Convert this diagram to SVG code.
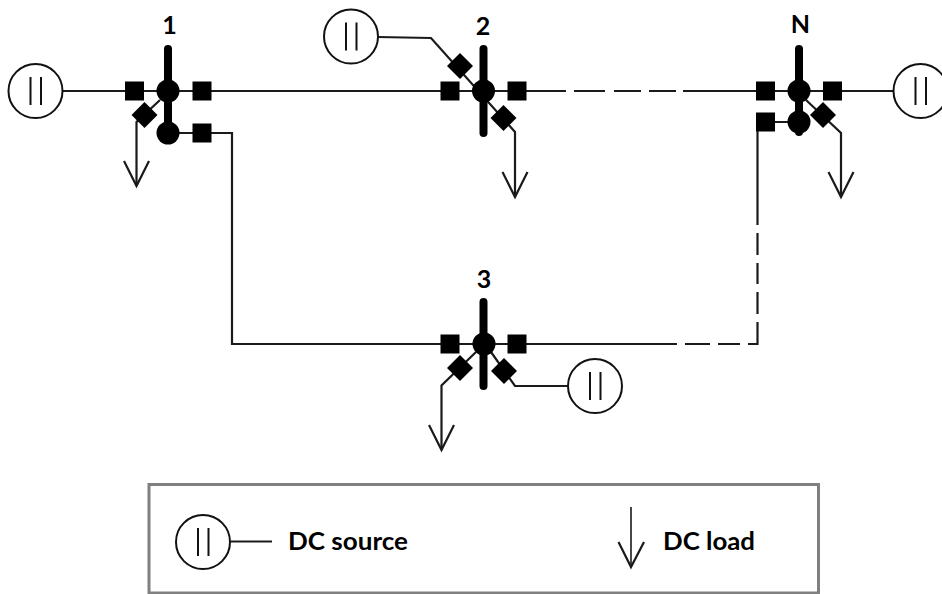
<svg xmlns="http://www.w3.org/2000/svg" width="942" height="594" viewBox="0 0 942 594">
<style>
.w{fill:none;stroke:#1a1a1a;stroke-width:2.200;stroke-linejoin:miter}
.bus{stroke:#000;stroke-width:8;stroke-linecap:round;fill:none}
.dot{fill:#000}
.sq{fill:#000}
.src{fill:#fff;stroke:#111;stroke-width:2}
.bar{stroke:#111;stroke-width:2;fill:none}
.lbl{font-family:Lato,"Open Sans",sans-serif;font-weight:700;fill:#000}
.n{font-size:25px;text-anchor:middle}
.l{font-size:25px}
</style>
<defs>
<g id="source"><circle class="src" r="27"/><path class="bar" d="M-5,-14V14M5.500,-14V14"/></g>
<rect id="square" class="sq" x="-9.500" y="-9.500" width="19" height="19"/>
<path id="diamond" class="sq" d="M0,-13L13,0L0,13L-13,0Z"/>
<path id="head" class="w" d="M-12.500,-25L0,0L12.500,-25"/>
</defs>
<g id="connectors">
<path class="w" d="M63,91H160"/>
<path class="w" d="M176,91H566M574,91H605M614,91H641M649,91H676M683,91H791"/>
<path class="w" d="M807,91H893"/>
<path class="w" d="M176,133H232V344H476"/>
<path class="w" d="M492,344H677M685,344H710M718,344H740M748,344H757.500V322M757.500,314V292M757.500,284V263M757.500,255V233M757.500,225V122H791"/>
<path class="w" d="M160,100L136.500,122V186"/>
<use href="#head" x="136.500" y="186"/>
<path class="w" d="M378,37L431,38L515,132V197"/>
<use href="#head" x="515" y="197"/>
<path class="w" d="M806,100L841,133V197"/>
<use href="#head" x="841" y="197"/>
<path class="w" d="M476,352L441.500,385.500V450"/>
<use href="#head" x="441.500" y="450"/>
<path class="w" d="M491,352L515,386H568"/>
</g>
<g id="node-1">
<path class="bus" d="M168,49V133"/><circle class="dot" cx="168" cy="91" r="11.500"/><circle class="dot" cx="168" cy="133" r="11.500"/>
<use href="#square" x="134.500" y="91"/><use href="#square" x="202" y="91"/><use href="#square" x="202" y="133"/><use href="#diamond" x="144.500" y="115"/>
<text class="lbl n" x="169.500" y="34">1</text>
</g>
<g id="node-2">
<path class="bus" d="M483.500,49V133"/><circle class="dot" cx="483.500" cy="91" r="11.500"/>
<use href="#square" x="450" y="91"/><use href="#square" x="517" y="91"/><use href="#diamond" x="460" y="66"/><use href="#diamond" x="503.500" y="118"/>
<text class="lbl n" x="483" y="35">2</text>
</g>
<g id="node-n">
<path class="bus" d="M799,49V132"/><circle class="dot" cx="799" cy="91" r="11.500"/><circle class="dot" cx="799" cy="122" r="11.500"/>
<use href="#square" x="765.500" y="91"/><use href="#square" x="832.500" y="91"/><use href="#square" x="765.500" y="122"/><use href="#diamond" x="823" y="115"/>
<text class="lbl n" x="800.500" y="33">N</text>
</g>
<g id="node-3">
<path class="bus" d="M483.500,302V386"/><circle class="dot" cx="484" cy="344" r="11.500"/>
<use href="#square" x="450" y="344"/><use href="#square" x="517" y="344"/><use href="#diamond" x="460" y="368"/><use href="#diamond" x="504" y="371"/>
<text class="lbl n" x="484" y="288">3</text>
</g>
<g id="source-1"><use href="#source" x="35.500" y="91"/></g>
<g id="source-2"><use href="#source" x="351" y="36.500"/></g>
<g id="source-n"><use href="#source" x="920.500" y="91"/></g>
<g id="source-3"><use href="#source" x="595" y="386"/></g>
<g id="legend">
<path fill="none" stroke="#808080" stroke-width="3" d="M149,484.500H818.500V593H149Z"/>
<use href="#source" x="203" y="542"/>
<path class="w" d="M230,541.500H272"/>
<text class="lbl l" x="288" y="549.500" textLength="120" lengthAdjust="spacingAndGlyphs">DC source</text>
<path class="w" style="stroke-width:1.600" d="M631,507V567"/>
<path class="w" d="M618.500,542L631,567L644,542"/>
<text class="lbl l" x="663" y="549.500" textLength="92" lengthAdjust="spacingAndGlyphs">DC load</text>
</g>
</svg>
